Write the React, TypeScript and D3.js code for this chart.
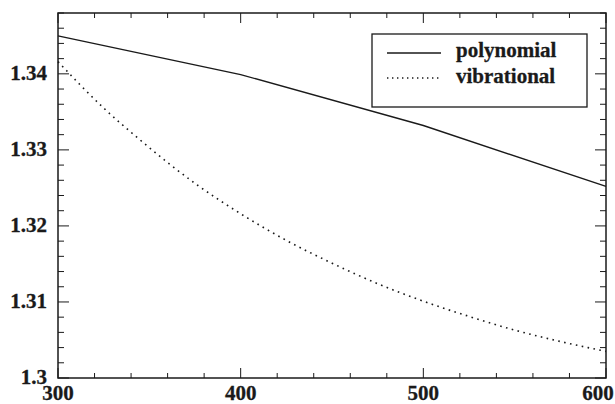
import React from "react";
import * as d3 from "d3";

const WIDTH = 615;
const HEIGHT = 404;
const MARGIN = { top: 13, right: 9, bottom: 26, left: 58 };

// readings
const temps = [300, 325, 344, 375, 400, 425, 450, 475, 500, 525, 550, 575, 600];
const vibrational = [1.3416, 1.3355, 1.3315, 1.3256, 1.3216, 1.3181, 1.3151, 1.3124, 1.3101, 1.3081, 1.3063, 1.3048, 1.3035];
const polyTemps = [300, 400, 500, 600];
const polynomial = [1.345, 1.3399, 1.3332, 1.3252];

const xTicks = [300, 400, 500, 600];
const yTicks = [1.3, 1.31, 1.32, 1.33, 1.34];
const yTickLabels = ["1.3", "1.31", "1.32", "1.33", "1.34"];
const legendNames = ["polynomial", "vibrational"];

const FONT = "'Liberation Serif', 'DejaVu Serif', serif";
const INK = "#1a1a1a";

const labelStyle = {
  fontFamily: FONT,
  fontWeight: 700,
  fontSize: "21px",
  fill: INK,
  stroke: INK,
  strokeWidth: 0.3,
};

const App = () => {
  const boundsWidth = WIDTH - MARGIN.left - MARGIN.right;
  const boundsHeight = HEIGHT - MARGIN.top - MARGIN.bottom;

  const xScale = d3.scaleLinear().domain([300, 600]).range([0, boundsWidth]);
  const yScale = d3.scaleLinear().domain([1.3, 1.348]).range([boundsHeight, 0]);

  const line = d3
    .line<[number, number]>()
    .x((d) => xScale(d[0]))
    .y((d) => yScale(d[1]));

  const polyPath = line(polyTemps.map((t, i) => [t, polynomial[i]]));
  const vibPath = line
    .curve(d3.curveMonotoneX)(temps.map((t, i) => [t, vibrational[i]]));

  const xMinor = d3.range(300, 601, 20);
  const yMinor = d3.range(0, 25).map((i) => 1.3 + i * 0.002);

  return (
    <svg
      width={WIDTH}
      height={HEIGHT}
      style={{ position: "absolute", left: 0, top: 0, background: "#fff" }}
    >
      <g transform={`translate(${MARGIN.left},${MARGIN.top})`}>
        {/* ticks on all four sides, pointing in */}
        {xMinor.map((t) => {
          const len = t % 100 === 0 ? 10 : 5;
          return (
            <g key={"x" + t} stroke={INK} strokeWidth={1}>
              <line x1={xScale(t)} x2={xScale(t)} y1={boundsHeight} y2={boundsHeight - len} />
              <line x1={xScale(t)} x2={xScale(t)} y1={0} y2={len} />
            </g>
          );
        })}
        {yMinor.map((v, i) => {
          const len = i % 5 === 0 ? 11 : 6;
          return (
            <g key={"y" + i} stroke={INK} strokeWidth={1}>
              <line x1={0} x2={len} y1={yScale(v)} y2={yScale(v)} />
              <line x1={boundsWidth} x2={boundsWidth - len} y1={yScale(v)} y2={yScale(v)} />
            </g>
          );
        })}

        <path d={polyPath ?? ""} fill="none" stroke={INK} strokeWidth={1.4} />
        <path
          d={vibPath ?? ""}
          fill="none"
          stroke={INK}
          strokeWidth={1.6}
          strokeDasharray="1.6,4.4"
        />

        <rect
          x={0}
          y={0}
          width={boundsWidth}
          height={boundsHeight}
          fill="none"
          stroke={INK}
          strokeWidth={1.5}
        />

        {yTicks.map((v, i) => (
          <text
            key={"yl" + v}
            x={-11}
            y={yScale(v) + 6}
            textAnchor="end"
            style={labelStyle}
          >
            {yTickLabels[i]}
          </text>
        ))}
        {xTicks.map((t, i) => (
          <text
            key={"xl" + t}
            x={i === xTicks.length - 1 ? xScale(t) - 8 : xScale(t)}
            y={boundsHeight + 22}
            textAnchor="middle"
            style={labelStyle}
          >
            {t}
          </text>
        ))}
      </g>

      {/* legend */}
      <g transform="translate(372,34)">
        <rect x={0} y={0} width={215} height={73} fill="#fff" stroke={INK} strokeWidth={1.3} />
        {legendNames.map((name, i) => (
          <g key={name} transform={`translate(0,${19 + i * 25})`}>
            <line
              x1={15}
              x2={69}
              y1={0}
              y2={0}
              stroke={INK}
              strokeWidth={1.4}
              strokeDasharray={i === 0 ? undefined : "1.4,3.6"}
            />
            <text x={84} y={4 + i * 0.5} style={labelStyle}>
              {name}
            </text>
          </g>
        ))}
      </g>
    </svg>
  );
};

export default App;
